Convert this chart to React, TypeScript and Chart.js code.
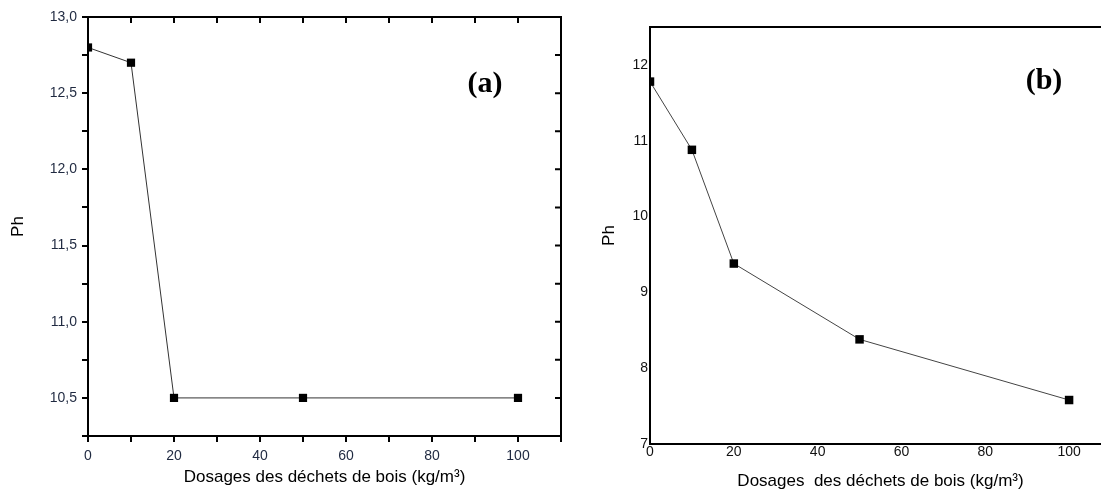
import React, { useEffect, useRef } from 'react';
import { Chart, registerables } from 'chart.js';

Chart.register(...registerables);

// ---- data ----
const dosages = [0, 10, 20, 50, 100];
const phA = [12.8, 12.7, 10.5, 10.5, 10.5];
const phB = [11.78, 10.88, 9.38, 8.38, 7.58];
const xTitleA = 'Dosages des déchets de bois (kg/m³)';
const xTitleB = 'Dosages  des déchets de bois (kg/m³)';
const yTitle = 'Ph';
const panelLabelA = '(a)';
const panelLabelB = '(b)';

const SANS = "'Liberation Sans', Arial, sans-serif";
const SERIF = "'Liberation Serif', 'Times New Roman', serif";

const framePlugin = (inward: boolean, tickLen: number) => ({
  id: 'frame',
  afterDraw(chart: any) {
    const { ctx, chartArea, scales } = chart;
    const { left, right, top, bottom } = chartArea;
    ctx.save();
    ctx.strokeStyle = '#000';
    ctx.lineWidth = 2;
    ctx.beginPath();
    ctx.moveTo(left - 1, top);
    ctx.lineTo(right, top);
    ctx.lineTo(right, bottom + 1);
    ctx.stroke();
    if (inward) {
      ctx.beginPath();
      scales.x.ticks.forEach((t: any) => {
        const px = scales.x.getPixelForValue(t.value);
        ctx.moveTo(px, top);
        ctx.lineTo(px, top + tickLen);
      });
      scales.y.ticks.forEach((t: any) => {
        const py = scales.y.getPixelForValue(t.value);
        ctx.moveTo(right, py);
        ctx.lineTo(right - tickLen, py);
      });
      ctx.stroke();
    }
    ctx.restore();
  },
});

function buildA(canvas: HTMLCanvasElement) {
  return new Chart(canvas, {
    type: 'line',
    data: {
      datasets: [
        {
          data: dosages.map((x, i) => ({ x, y: phA[i] })),
          borderColor: '#333',
          borderWidth: 1,
          pointStyle: 'rect',
          pointRadius: 5.8,
          pointBackgroundColor: '#000',
          pointBorderWidth: 0,
          clip: 0,
          tension: 0,
        } as any,
      ],
    },
    options: {
      responsive: false,
      animation: false,
      events: [],
      layout: { padding: { left: 0, top: 17, right: 39, bottom: 0 } },
      plugins: { legend: { display: false }, tooltip: { enabled: false } },
      scales: {
        x: {
          type: 'linear',
          min: 0,
          max: 110,
          afterFit: (s: any) => { s.height = 59; },
          border: { display: true, color: '#000', width: 2 },
          grid: { display: true, drawOnChartArea: false, drawTicks: true, tickLength: 6, color: '#000', lineWidth: 2 },
          ticks: {
            stepSize: 10,
            autoSkip: false,
            maxRotation: 0,
            padding: 6,
            color: '#1f2940',
            font: { family: SANS, size: 14 },
            callback: (v: any) => (v % 20 === 0 && v <= 100 ? String(v) : ''),
          },
          title: { display: true, text: xTitleA, color: '#000', font: { family: SANS, size: 17 }, padding: { top: 0, bottom: 7 } },
        },
        y: {
          type: 'linear',
          min: 10.25,
          max: 13,
          afterFit: (s: any) => { s.width = 88; },
          border: { display: true, color: '#000', width: 2 },
          grid: { display: true, drawOnChartArea: false, drawTicks: true, tickLength: 6, color: '#000', lineWidth: 2 },
          ticks: {
            stepSize: 0.25,
            autoSkip: false,
            padding: 5,
            color: '#1f2940',
            font: { family: SANS, size: 14 },
            callback: (v: any) => (Math.abs(v * 2 - Math.round(v * 2)) < 1e-6 ? Number(v).toFixed(1).replace('.', ',') : ''),
          },
          title: { display: true, text: yTitle, color: '#000', font: { family: SANS, size: 17 }, padding: { top: 8, bottom: 0 } },
        },
      },
    } as any,
    plugins: [framePlugin(true, 6)],
  });
}

function buildB(canvas: HTMLCanvasElement) {
  return new Chart(canvas, {
    type: 'line',
    data: {
      datasets: [
        {
          data: dosages.map((x, i) => ({ x, y: phB[i] })),
          borderColor: '#444',
          borderWidth: 1,
          pointStyle: 'rect',
          pointRadius: 6,
          pointBackgroundColor: '#000',
          pointBorderWidth: 0,
          clip: 0,
          tension: 0,
        } as any,
      ],
    },
    options: {
      responsive: false,
      animation: false,
      events: [],
      layout: { padding: { left: 0, top: 27, right: 19, bottom: 0 } },
      plugins: { legend: { display: false }, tooltip: { enabled: false } },
      scales: {
        x: {
          type: 'linear',
          min: 0,
          max: 110,
          afterFit: (s: any) => { s.height = 51; },
          border: { display: true, color: '#000', width: 2 },
          grid: { display: false, drawOnChartArea: false, drawTicks: false },
          ticks: {
            stepSize: 10,
            autoSkip: false,
            maxRotation: 0,
            padding: 0,
            color: '#111',
            font: { family: SANS, size: 14 },
            callback: (v: any) => (v % 20 === 0 && v <= 100 ? String(v) : ''),
          },
          title: { display: true, text: xTitleB, color: '#000', font: { family: SANS, size: 17 }, padding: { top: 0, bottom: 3 } },
        },
        y: {
          type: 'linear',
          min: 7,
          max: 12.5,
          afterFit: (s: any) => { s.width = 60; },
          border: { display: true, color: '#000', width: 2 },
          grid: { display: false, drawOnChartArea: false, drawTicks: false },
          ticks: {
            stepSize: 1,
            autoSkip: false,
            padding: 2,
            color: '#111',
            font: { family: SANS, size: 14 },
            callback: (v: any) => (Number.isInteger(v) ? String(v) : ''),
          },
          title: { display: true, text: yTitle, color: '#000', font: { family: SANS, size: 17 }, padding: { top: 9, bottom: 0 } },
        },
      },
    } as any,
    plugins: [framePlugin(false, 0)],
  });
}

export default function App() {
  const refA = useRef<HTMLCanvasElement | null>(null);
  const refB = useRef<HTMLCanvasElement | null>(null);

  useEffect(() => {
    const a = refA.current ? buildA(refA.current) : null;
    const b = refB.current ? buildB(refB.current) : null;
    return () => {
      a && a.destroy();
      b && b.destroy();
    };
  }, []);

  const labelStyle = (x: number, y: number): React.CSSProperties => ({
    position: 'absolute',
    left: x,
    top: y,
    transform: 'translate(-50%, -50%)',
    font: `bold 30px ${SERIF}`,
    color: '#000',
    whiteSpace: 'nowrap',
    lineHeight: 1,
  });

  return (
    <div style={{ position: 'fixed', left: 0, top: 0, width: 1101, height: 495, overflow: 'hidden', background: '#fff' }}>
      <canvas ref={refA} width={600} height={495} style={{ position: 'absolute', left: 0, top: 0, width: 600, height: 495 }} />
      <canvas ref={refB} width={540} height={495} style={{ position: 'absolute', left: 590, top: 0, width: 540, height: 495 }} />
      <div style={labelStyle(485, 82)}>{panelLabelA}</div>
      <div style={labelStyle(1044, 79)}>{panelLabelB}</div>
    </div>
  );
}
